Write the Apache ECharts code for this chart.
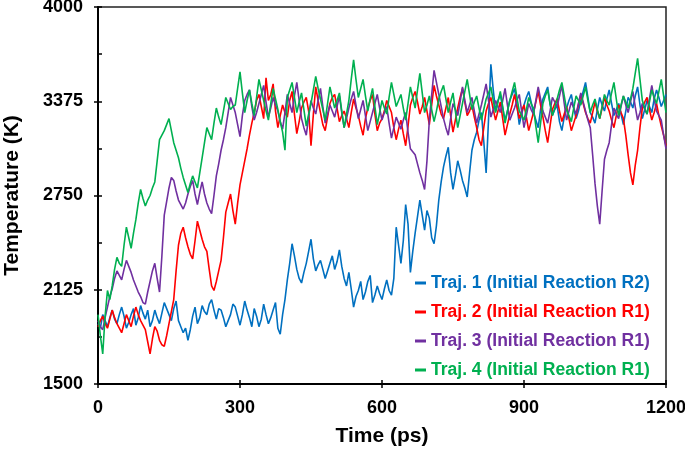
<!DOCTYPE html>
<html>
<head>
<meta charset="utf-8">
<script src="https://cdn.jsdelivr.net/npm/echarts@6/dist/echarts.min.js"></script>
<style>
html,body{margin:0;padding:0;background:#fff;}
#chart{width:685px;height:452px;}
</style>
</head>
<body>
<div id="chart"></div>
<script>
// ---- Data (temperature in K, sampled every 5 ps from 0 to 1200 ps) ----
const sampleStepPs = 5;
const seriesNames = [
  'Traj. 1 (Initial Reaction R2)',
  'Traj. 2 (Initial Reaction R1)',
  'Traj. 3 (Initial Reaction R1)',
  'Traj. 4 (Initial Reaction R1)'
];
const yTickLabels = [1500, 2125, 2750, 3375, 4000];
const yMinorTicks = [1812.5, 2437.5, 3062.5, 3687.5];
const xTickLabels = [0, 300, 600, 900, 1200];

const traj1 = [
  1900,1870,1960,1920,1880,1940,1990,1930,1900,1960,
  2010,1950,1870,1910,1960,2000,1890,1940,2020,1970,
  1930,1990,1880,1920,1990,1940,1900,1970,2040,2000,
  1960,1920,2000,2050,1920,1880,1840,1870,1790,1860,
  1950,2010,1900,1940,2020,1980,1960,2030,2060,1990,
  1930,2000,1990,1940,1880,1920,1960,2030,2010,1950,
  1890,1960,2050,1990,1940,1880,2000,1950,1880,1930,
  2030,1960,1900,1940,1990,2040,1870,1830,1960,2060,
  2190,2300,2430,2350,2260,2200,2170,2240,2300,2380,
  2460,2330,2250,2290,2320,2260,2200,2250,2300,2350,
  2260,2310,2390,2280,2200,2150,2240,2130,2010,2080,
  2120,2180,2060,2110,2180,2220,2040,2090,2150,2100,
  2060,2130,2190,2120,2090,2200,2540,2420,2300,2450,
  2690,2560,2240,2380,2500,2610,2720,2620,2520,2650,
  2600,2470,2430,2550,2720,2840,2940,3010,3070,2900,
  2790,2880,2980,2920,2850,2800,2740,2900,3050,3120,
  3170,3250,3300,3110,2900,3250,3620,3450,3310,3380,
  3420,3330,3250,3310,3380,3420,3460,3350,3220,3290,
  3350,3400,3440,3370,3300,3250,3200,3320,3390,3430,
  3470,3360,3280,3320,3350,3240,3180,3270,3330,3380,
  3420,3330,3260,3310,3380,3440,3500,3400,3300,3270,
  3230,3320,3400,3350,3310,3390,3450,3360,3280,3320,
  3360,3290,3220,3310,3400,3370,3330,3410,3470,3350,
  3260,3320,3380,3340,3300,3390,3450,3400,3340,3380,
  3420
];
const traj2 = [
  1880,1920,1950,1900,1870,1930,1990,1940,1900,1870,
  1840,1900,1960,1920,1880,1950,2010,1960,1920,1890,
  1860,1780,1700,1800,1880,1850,1790,1760,1750,1820,
  1900,1980,2060,2250,2420,2500,2540,2470,2410,2360,
  2330,2450,2580,2520,2460,2410,2380,2260,2150,2120,
  2180,2250,2320,2470,2640,2700,2760,2650,2560,2700,
  2820,2900,2980,3060,3150,3230,3300,3380,3420,3340,
  3260,3530,3380,3420,3490,3310,3200,3280,3350,3300,
  3270,3380,3440,3290,3160,3240,3330,3370,3400,3310,
  3080,3290,3470,3380,3300,3220,3180,3270,3360,3400,
  3420,3330,3240,3280,3310,3260,3200,3300,3390,3330,
  3280,3210,3150,3260,3330,3380,3420,3290,3180,3230,
  3260,3310,3380,3340,3300,3200,3120,3190,3250,3160,
  3080,3210,3350,3400,3440,3370,3290,3340,3400,3310,
  3220,3350,3480,3410,3350,3290,3260,3330,3400,3280,
  3170,3250,3330,3400,3460,3370,3280,3310,3350,3270,
  3200,3120,3080,3200,3310,3360,3400,3320,3250,3310,
  3370,3260,3150,3220,3290,3350,3420,3340,3260,3310,
  3350,3270,3180,3240,3300,3370,3440,3350,3270,3180,
  3100,3210,3320,3360,3390,3310,3240,3290,3340,3260,
  3180,3230,3280,3350,3420,3360,3300,3260,3230,3300,
  3370,3310,3260,3330,3400,3350,3310,3250,3200,3280,
  3350,3300,3260,3150,3020,2900,2820,2950,3050,3200,
  3330,3370,3400,3320,3250,3300,3360,3280,3210,3150,
  3080
];
const traj3 = [
  1920,1880,1860,1940,2010,2080,2130,2200,2250,2220,
  2190,2260,2320,2280,2240,2190,2150,2110,2080,2040,
  2030,2110,2180,2250,2300,2200,2110,2350,2620,2710,
  2800,2870,2850,2780,2720,2690,2660,2700,2760,2810,
  2850,2760,2690,2770,2840,2760,2700,2660,2630,2750,
  2880,2960,3050,3120,3200,3300,3400,3350,3300,3220,
  3140,3280,3380,3420,3450,3340,3250,3300,3360,3420,
  3480,3370,3270,3330,3400,3350,3310,3240,3190,3300,
  3420,3360,3300,3410,3500,3380,3260,3200,3150,3270,
  3380,3330,3290,3380,3460,3340,3230,3290,3350,3310,
  3270,3340,3410,3300,3200,3260,3330,3390,3440,3350,
  3260,3320,3380,3280,3180,3240,3300,3360,3420,3330,
  3250,3300,3340,3230,3130,3200,3270,3230,3190,3250,
  3300,3170,3060,3040,3020,2960,2900,2850,2790,2980,
  3250,3420,3580,3500,3420,3340,3260,3200,3150,3260,
  3360,3320,3280,3370,3470,3380,3300,3350,3400,3310,
  3230,3290,3350,3420,3490,3380,3270,3320,3380,3340,
  3300,3380,3460,3350,3250,3290,3330,3380,3420,3310,
  3200,3280,3360,3320,3290,3380,3470,3390,3310,3270,
  3230,3310,3400,3370,3340,3410,3480,3360,3250,3310,
  3370,3330,3290,3360,3430,3370,3310,3250,3200,3020,
  2830,2680,2560,2780,2990,3050,3100,3220,3330,3290,
  3260,3340,3410,3350,3300,3370,3440,3340,3250,3300,
  3360,3320,3290,3390,3480,3390,3310,3280,3250,3150,
  3060
];
const traj4 = [
  1960,1820,1700,1950,2120,2060,2150,2260,2340,2300,
  2280,2420,2540,2470,2400,2500,2590,2700,2790,2730,
  2680,2720,2750,2800,2840,2980,3120,3150,3180,3220,
  3260,3180,3100,3050,3000,2930,2870,2820,2770,2830,
  2880,2840,2800,2900,3000,3100,3200,3160,3120,3230,
  3330,3270,3220,3310,3400,3360,3320,3340,3350,3460,
  3570,3430,3300,3380,3450,3360,3280,3400,3520,3450,
  3380,3310,3250,3360,3460,3390,3320,3240,3170,3050,
  3400,3450,3500,3400,3300,3370,3430,3320,3210,3290,
  3360,3450,3540,3460,3390,3320,3250,3360,3470,3400,
  3330,3380,3430,3310,3200,3290,3380,3520,3650,3520,
  3400,3460,3520,3410,3310,3390,3460,3340,3220,3300,
  3380,3330,3290,3400,3500,3420,3340,3380,3420,3330,
  3250,3360,3470,3400,3330,3450,3560,3430,3300,3350,
  3410,3320,3240,3310,3390,3440,3480,3390,3300,3370,
  3430,3310,3200,3280,3360,3440,3520,3420,3320,3370,
  3410,3330,3250,3320,3390,3430,3470,3380,3300,3370,
  3440,3340,3230,3310,3380,3440,3500,3400,3310,3280,
  3250,3320,3400,3360,3330,3210,3100,3230,3360,3410,
  3450,3360,3280,3330,3390,3450,3500,3410,3320,3280,
  3240,3330,3410,3380,3350,3410,3470,3380,3300,3350,
  3390,3320,3260,3340,3420,3380,3350,3430,3500,3390,
  3280,3350,3410,3370,3330,3390,3460,3560,3660,3520,
  3380,3330,3290,3370,3450,3400,3360,3440,3520,3410,
  3300
];

const colors = ['#0070C0', '#FF0000', '#7030A0', '#00B050'];
const allSeries = [traj1, traj2, traj3, traj4];

function toPairs(arr) {
  return arr.map((v, i) => [i * sampleStepPs, v]);
}

const chart = echarts.init(document.getElementById('chart'), null, {renderer: 'canvas'});
const fontFamily = 'Arial, "Liberation Sans", Helvetica, sans-serif';
const plainNum = v => String(v);

const option = {
  animation: false,
  backgroundColor: '#fff',
  grid: {
    left: 98, right: 19, top: 7, bottom: 68,
    show: true, borderColor: '#222', borderWidth: 1.5,
    containLabel: false, outerBoundsMode: 'none'
  },
  legend: {
    orient: 'vertical',
    left: 410, top: 269,
    itemGap: 11,
    itemWidth: 11, itemHeight: 3,
    icon: 'rect',
    textStyle: {fontFamily: fontFamily, fontWeight: 'bold', fontSize: 17.5},
    data: seriesNames.map((n, i) => ({name: n, textStyle: {color: colors[i]}}))
  },
  xAxis: [
    {
      type: 'value', min: 0, max: 1200, interval: 300, position: 'bottom',
      name: 'Time (ps)', nameLocation: 'middle', nameGap: 42,
      nameTextStyle: {fontFamily: fontFamily, fontWeight: 'bold', fontSize: 21, color: '#000'},
      axisLine: {show: true, lineStyle: {color: '#000', width: 2}},
      axisTick: {show: true, inside: false, length: 4, lineStyle: {color: '#000', width: 1.5}},
      axisLabel: {show: true, margin: 15, fontFamily: fontFamily, fontWeight: 'bold', fontSize: 18, color: '#000',
        formatter: plainNum, customValues: xTickLabels},
      splitLine: {show: false}
    },
    {
      type: 'value', min: 0, max: 1200, interval: 300, position: 'bottom', offset: 0,
      axisLine: {show: false},
      axisTick: {show: true, inside: true, length: 4, lineStyle: {color: '#000', width: 1.5}},
      axisLabel: {show: false},
      splitLine: {show: false}
    }
  ],
  yAxis: [
    {
      type: 'value', min: 1500, max: 4000, position: 'left',
      name: 'Temperature (K)', nameLocation: 'middle', nameGap: 75, nameRotate: 90,
      nameTextStyle: {fontFamily: fontFamily, fontWeight: 'bold', fontSize: 21, color: '#000'},
      axisLine: {show: true, lineStyle: {color: '#000', width: 2}},
      axisTick: {show: true, inside: false, length: 4, customValues: yTickLabels,
        lineStyle: {color: '#000', width: 1.5}},
      axisLabel: {show: true, margin: 15, fontFamily: fontFamily, fontWeight: 'bold', fontSize: 18, color: '#000',
        formatter: plainNum, customValues: yTickLabels},
      splitLine: {show: false}
    },
    {
      type: 'value', min: 1500, max: 4000, position: 'left', offset: 0,
      axisLine: {show: false},
      axisTick: {show: true, inside: true, length: 4, customValues: yTickLabels.concat(yMinorTicks),
        lineStyle: {color: '#000', width: 1.5}},
      axisLabel: {show: false},
      splitLine: {show: false}
    }
  ],
  series: allSeries.map((arr, i) => ({
    name: seriesNames[i],
    type: 'line',
    xAxisIndex: 0, yAxisIndex: 0,
    data: toPairs(arr),
    showSymbol: false,
    symbol: 'none',
    color: colors[i],
    lineStyle: {color: colors[i], width: 1.6},
    z: 2 + i
  }))
};
chart.setOption(option);
</script>
</body>
</html>
